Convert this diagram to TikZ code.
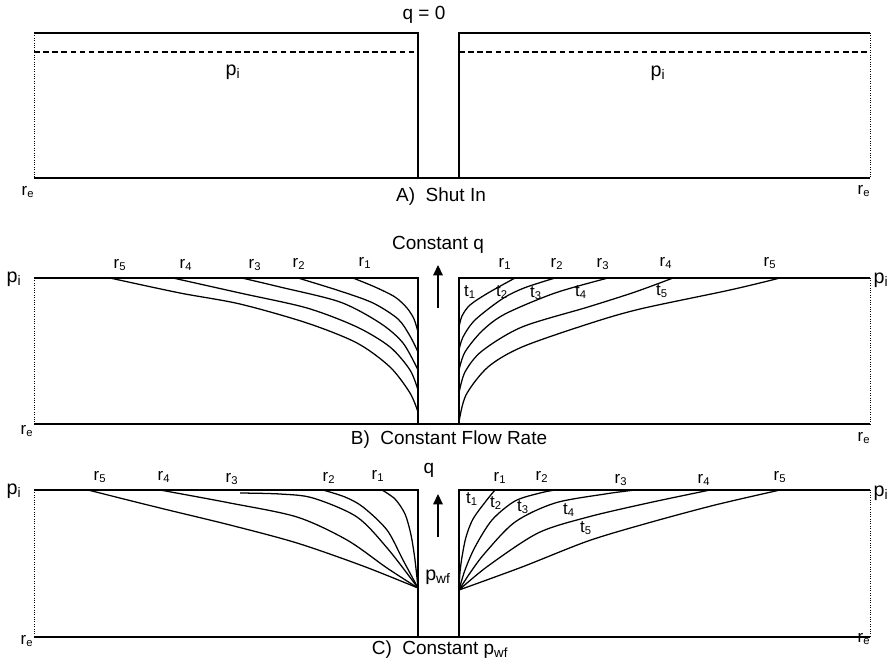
\documentclass[tikz,border=0pt]{standalone}
\usepackage{fontspec}
\setmainfont{Liberation Sans}
\usetikzlibrary{arrows.meta}
\newcommand{\rad}[1]{r\textsubscript{#1}}
\newcommand{\tim}[1]{t\textsubscript{#1}}
\newcommand{\pwf}{p\textsubscript{wf}}
\tikzset{
  wall/.style={line width=0.8pt},
  rim/.style={densely dotted, line width=0.7pt},
  prof/.style={line width=0.9pt},
  lbl/.style={font=\fontsize{12}{14}\selectfont, inner sep=0pt},
  plbl/.style={font=\fontsize{14}{16}\selectfont, inner sep=0pt},
  capt/.style={font=\fontsize{13.5}{16}\selectfont, inner sep=0pt},
  flow/.style={-{Triangle[length=2.6mm, width=2.4mm]}, line width=0.9pt},
}

\begin{document}
\begin{tikzpicture}[x=0.025cm, y=-0.025cm]
  \useasboundingbox (0,0) rectangle (894,666);

  % A) shut in
  \draw[wall] (34,33) -- (418,33) -- (418,178);
  \draw[wall] (459,178) -- (459,33) -- (870,33);
  \draw[wall] (34,178) -- (870,178);
  \draw[rim] (34,33) -- (34,178); \draw[rim] (870,33) -- (870,178);
  \draw[wall, dash pattern=on 4pt off 2.5pt] (34,52) -- (418,52);
  \draw[wall, dash pattern=on 4pt off 2.5pt] (459,52) -- (870,52);
  \node[capt] (qA)   at (424,15)  {q = 0};
  \node[plbl] (piAl) at (233,72)  {p\textsubscript{i}};
  \node[plbl] (piAr) at (658,73)  {p\textsubscript{i}};
  \node[lbl]  (reAl) at (28,192)  {\rad{e}};
  \node[lbl]  (reAr) at (864,191) {\rad{e}};
  \node[capt] (capA) at (441,197) {A)~~Shut In};

  % B) constant flow rate
  \draw[wall] (34,278) -- (418,278) -- (418,424);
  \draw[wall] (459,424) -- (459,278) -- (870,278);
  \draw[wall] (34,424) -- (870,424);
  \draw[rim] (34,278) -- (34,424); \draw[rim] (870,278) -- (870,424);
  \draw[prof] plot[smooth] coordinates {(353,278) (375,287) (395,297) (407,308) (414,319) (418,332)};
  \draw[prof] plot[smooth] coordinates {(298,278) (340,291) (373,303) (398,319) (410,336) (418,352)};
  \draw[prof] plot[smooth] coordinates {(242,278) (280,287) (340,302) (380,323) (403,343) (418,370)};
  \draw[prof] plot[smooth] coordinates {(173,278) (240,293) (307,308) (357,327) (390,347) (410,370) (418,390)};
  \draw[prof] plot[smooth] coordinates {(110,278) (180,293) (240,304) (307,323) (357,343) (390,367) (410,393) (418,412)};
  \draw[prof] plot[smooth] coordinates {(459,327) (462,316) (470,305) (488,293) (515,278)};
  \draw[prof] plot[smooth] coordinates {(459,350) (463,337) (475,320) (502,299) (524,288) (555,278)};
  \draw[prof] plot[smooth] coordinates {(459,370) (465,352) (482,331) (505,314) (555,293) (608,278)};
  \draw[prof] plot[smooth] coordinates {(459,393) (465,372) (482,351) (522,327) (588,307) (635,292) (673,278)};
  \draw[prof] plot[smooth] coordinates {(459,422) (466,395) (488,367) (522,347) (588,324) (640,309) (730,290) (780,278)};
  \node[capt] (qB)   at (438,245) {Constant q};
  \coordinate (qB0) at (438,308); \coordinate (qB1) at (438,265);
  \draw[flow] (qB0) -- (qB1);
  \node[plbl] (piBl) at (14,279)  {p\textsubscript{i}};
  \node[plbl] (piBr) at (881,280) {p\textsubscript{i}};
  \node[lbl]  (reBl) at (27,431)  {\rad{e}};
  \node[lbl]  (reBr) at (864,438) {\rad{e}};
  \node[lbl] (rB5l) at (120,265) {\rad{5}}; \node[lbl] (rB4l) at (186,265) {\rad{4}};
  \node[lbl] (rB3l) at (255,265) {\rad{3}}; \node[lbl] (rB2l) at (299,264) {\rad{2}};
  \node[lbl] (rB1l) at (365,263) {\rad{1}};
  \node[lbl] (rB1r) at (505,264) {\rad{1}}; \node[lbl] (rB2r) at (557,264) {\rad{2}};
  \node[lbl] (rB3r) at (603,264) {\rad{3}}; \node[lbl] (rB4r) at (666,263) {\rad{4}};
  \node[lbl] (rB5r) at (770,263) {\rad{5}};
  \node[lbl] (tB1) at (470,292) {\tim{1}}; \node[lbl] (tB2) at (502,292) {\tim{2}};
  \node[lbl] (tB3) at (536,293) {\tim{3}}; \node[lbl] (tB4) at (581,292) {\tim{4}};
  \node[lbl] (tB5) at (662,291) {\tim{5}};
  \node[capt] (capB) at (449,440) {B)~~Constant Flow Rate};

  % C) constant bottomhole pressure
  \draw[wall] (34,490) -- (418,490) -- (418,637);
  \draw[wall] (459,637) -- (459,490) -- (870,490);
  \draw[wall] (34,637) -- (870,637);
  \draw[rim] (34,490) -- (34,637); \draw[rim] (870,490) -- (870,637);
  \draw[prof] plot[smooth] coordinates {(382,490) (395,499) (405,514) (411,535) (415,560) (418,588)};
  \draw[prof] plot[smooth] coordinates {(323,490) (345,497) (363,507) (387,530) (403,560) (418,588)};
  \draw[prof] plot[smooth] coordinates {(240,493) (280,494) (313,498) (357,517) (388,549) (418,588)};
  \draw[prof] plot[smooth] coordinates {(160,490) (230,503) (297,517) (347,540) (387,568) (418,588)};
  \draw[prof] plot[smooth] coordinates {(88,490) (160,508) (230,525) (297,543) (363,566) (418,588)};
  \draw[prof] plot[smooth] coordinates {(459,590) (460,572) (462,557) (466,537) (473,519) (486,501) (495,490)};
  \draw[prof] plot[smooth] coordinates {(459,590) (465,570) (475,547) (492,520) (515,501) (540,493) (555,490)};
  \draw[prof] plot[smooth] coordinates {(459,590) (470,573) (485,553) (515,522) (555,503) (605,494) (635,490)};
  \draw[prof] plot[smooth] coordinates {(459,590) (488,566) (538,533) (588,517) (648,503) (710,490)};
  \draw[prof] plot[smooth] coordinates {(459,590) (522,567) (588,541) (648,523) (715,505) (780,490)};
  \node[capt] (qC)   at (429,470) {q};
  \coordinate (qC0) at (438,537); \coordinate (qC1) at (438,494);
  \draw[flow] (qC0) -- (qC1);
  \node[plbl] (pwfC) at (438,577) {\pwf};
  \node[plbl] (piCl) at (14,491)  {p\textsubscript{i}};
  \node[plbl] (piCr) at (881,493) {p\textsubscript{i}};
  \node[lbl]  (reCl) at (27,641)  {\rad{e}};
  \node[lbl]  (reCr) at (864,639) {\rad{e}};
  \node[lbl] (rC5l) at (100,477) {\rad{5}}; \node[lbl] (rC4l) at (164,477) {\rad{4}};
  \node[lbl] (rC3l) at (232,479) {\rad{3}}; \node[lbl] (rC2l) at (329,478) {\rad{2}};
  \node[lbl] (rC1l) at (378,476) {\rad{1}};
  \node[lbl] (rC1r) at (500,478) {\rad{1}}; \node[lbl] (rC2r) at (542,477) {\rad{2}};
  \node[lbl] (rC3r) at (621,480) {\rad{3}}; \node[lbl] (rC4r) at (704,480) {\rad{4}};
  \node[lbl] (rC5r) at (780,477) {\rad{5}};
  \node[lbl] (tC1) at (472,499) {\tim{1}}; \node[lbl] (tC2) at (496,503) {\tim{2}};
  \node[lbl] (tC3) at (523,507) {\tim{3}}; \node[lbl] (tC4) at (569,510) {\tim{4}};
  \node[lbl] (tC5) at (586,528) {\tim{5}};
  \node[capt] (capC) at (440,650) {C)~~Constant \pwf};
\end{tikzpicture}
\end{document}
